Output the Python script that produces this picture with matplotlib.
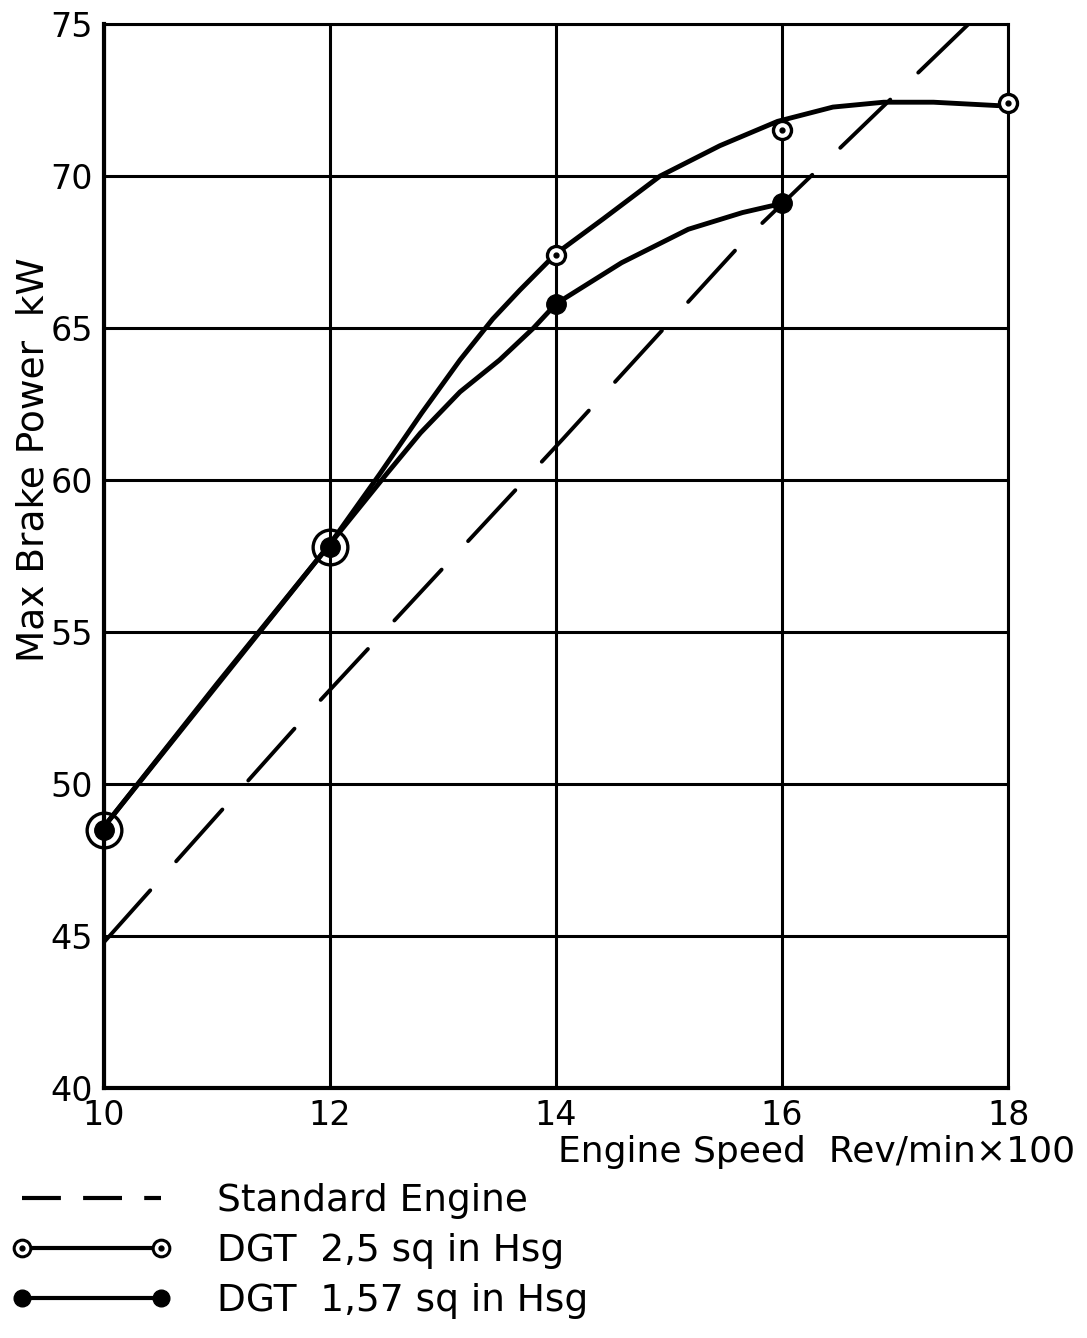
import matplotlib
matplotlib.use('Agg')
import matplotlib.pyplot as plt
from matplotlib.lines import Line2D
from matplotlib.legend_handler import HandlerTuple

plt.rcParams['font.family'] = ['DejaVu Sans']
plt.rcParams['lines.scale_dashes'] = False

# ---- data ----
speed = [10, 12, 14, 16, 18]
dgt25 = [48.5, 57.8, 67.4, 71.5, 72.4]
speed157 = [10, 12, 14, 16]
dgt157 = [48.5, 57.8, 65.8, 69.1]

# hand-drawn faired curves
curve25_x = [10, 11, 12, 12.44, 12.81, 13.15, 13.44, 13.68, 14, 14.42, 14.92, 15.45, 15.96, 16.45, 16.9, 17.34, 18]
curve25_y = [48.6, 53.3, 57.9, 60.2, 62.2, 63.95, 65.3, 66.25, 67.45, 68.6, 70.0, 71.0, 71.8, 72.27, 72.43, 72.43, 72.3]
curve157_x = [10, 12, 12.5, 12.8, 13.15, 13.5, 13.8, 14, 14.58, 15.17, 15.65, 16]
curve157_y = [48.6, 57.9, 60.2, 61.55, 62.9, 63.95, 65.0, 65.8, 67.15, 68.25, 68.8, 69.1]

std_x = [10, 11.8, 14.06, 15.67, 17.65]
std_y = [44.8, 52.3, 61.35, 67.9, 75.0]

xticks = [10, 12, 14, 16, 18]
yticks = [40, 45, 50, 55, 60, 65, 70, 75]

labels = ['Standard Engine', 'DGT  2,5 sq in Hsg', 'DGT  1,57 sq in Hsg']
xlabel = 'Engine Speed  Rev/min\u00d7100'
ylabel = 'Max Brake Power  kW'

# ---- figure ----
fig = plt.figure(figsize=(10.87, 13.38), dpi=100)
ax = fig.add_axes([0.0957, 0.1868, 0.8317, 0.7952])
ax.set_xlim(10, 18)
ax.set_ylim(40, 75)
ax.set_xticks(xticks)
ax.set_yticks(yticks)
ax.grid(True, color='black', lw=2.2)
ax.tick_params(length=0, labelsize=24, pad=8)
for side, sp in ax.spines.items():
    sp.set_color('black')
    sp.set_linewidth(3.0 if side in ('left', 'bottom') else 2.2)

ax.plot(std_x, std_y, color='black', lw=2.8, dashes=(50, 28),
        dash_capstyle='round', zorder=3)
ax.plot(curve25_x, curve25_y, color='black', lw=3.5, solid_capstyle='round', zorder=3)
ax.plot(curve157_x, curve157_y, color='black', lw=3.5, solid_capstyle='round', zorder=3)

# markers
lookup157 = dict(zip(speed157, dgt157))
shared_x, shared_y, own_x, own_y = [], [], [], []
for s, v in zip(speed, dgt25):
    if s in lookup157 and abs(lookup157[s] - v) < 1e-9:
        shared_x.append(s); shared_y.append(v)
    else:
        own_x.append(s); own_y.append(v)

ax.plot(own_x, own_y, ls='none', marker='o', ms=13, mfc='white', mec='black', mew=2.4,
        zorder=5, clip_on=False)
ax.plot(own_x, own_y, ls='none', marker='o', ms=3.5, color='black', zorder=6, clip_on=False)
ax.plot(shared_x, shared_y, ls='none', marker='o', ms=25, mfc='none', mec='black', mew=2.4,
        zorder=5, clip_on=False)
ax.plot(speed157, dgt157, ls='none', marker='o', ms=14, mfc='black', mec='black',
        zorder=6, clip_on=False)

ax.set_xlabel(xlabel, fontsize=26, ha='right')
ax.xaxis.set_label_coords(1.074, -0.044)
ax.set_ylabel(ylabel, fontsize=27)
ax.yaxis.set_label_coords(-0.058, 0.591)

# legend
h_std = Line2D([], [], color='black', lw=3, dashes=(28, 16))
h25 = (Line2D([], [], color='black', lw=3, marker='o', ms=12, mfc='white', mec='black', mew=2.2),
       Line2D([], [], ls='none', marker='o', ms=3.5, color='black'))
h157 = Line2D([], [], color='black', lw=3, marker='o', ms=12, mfc='black', mec='black')
fig.legend(handles=[h_std, h25, h157], labels=labels, loc='upper left',
           bbox_to_anchor=(0.010, 0.116), frameon=False, fontsize=27,
           handlelength=4.3, handletextpad=1.2, labelspacing=0.38, numpoints=2,
           borderaxespad=0, borderpad=0,
           handler_map={tuple: HandlerTuple(ndivide=1, pad=0)})

fig.savefig('out.png', dpi=100)
